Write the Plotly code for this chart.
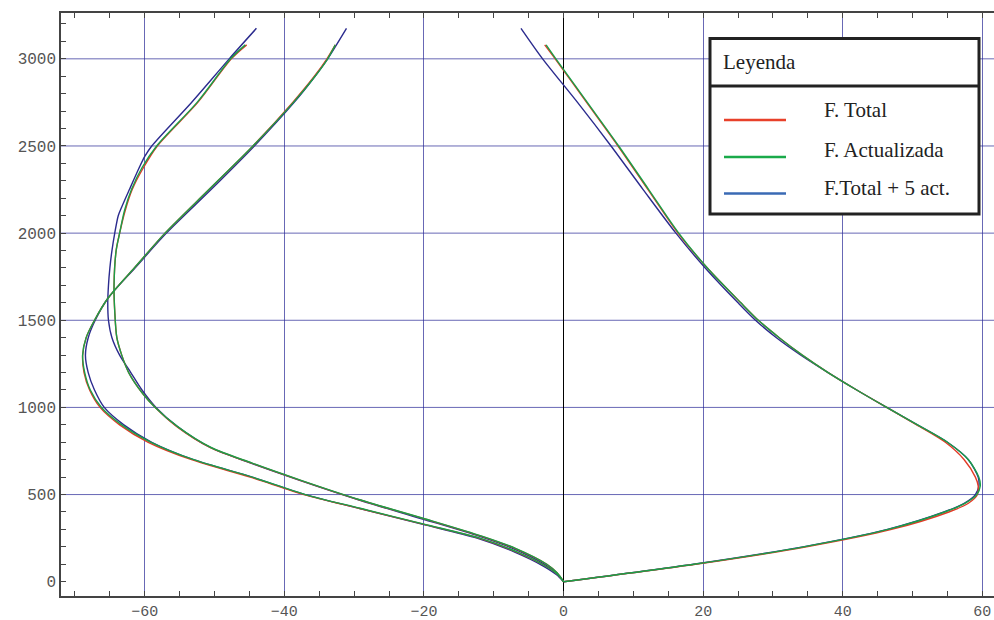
import plotly.graph_objects as go

# ---------------- data ----------------
# Right branch (red / green share heights; blue has its own)
alt_right = [0, 100, 200, 300, 400, 450, 500, 550, 600, 700, 800, 900, 1000, 1100, 1200,
             1300, 1400, 1500, 1600, 1800, 2000, 2250, 2500, 2750, 3000, 3080]
red_right = [0, 18.9, 34.8, 47.0, 55.2, 58.0, 59.3, 59.4, 59.0, 57.4, 54.7, 50.6, 46.3, 42.0, 37.9,
             34.2, 30.9, 27.9, 25.4, 20.6, 16.4, 12.1, 7.8, 3.3, -1.2, -2.7]
green_right = [0, 18.7, 34.4, 46.5, 54.6, 57.5, 59.2, 59.7, 59.5, 58.0, 55.0, 50.7, 46.3, 42.0, 37.9,
               34.2, 30.9, 27.9, 25.4, 20.6, 16.5, 12.2, 7.9, 3.4, -1.1, -2.5]
alt_right_blue = [0, 100, 200, 300, 400, 450, 500, 550, 600, 700, 800, 900, 1000, 1100, 1200,
                  1300, 1400, 1500, 1600, 1800, 2000, 2250, 2500, 2750, 3000, 3175]
blue_right = [0, 18.6, 34.3, 46.4, 54.5, 57.4, 59.0, 59.5, 59.4, 58.0, 55.0, 50.7, 46.3, 42.0, 37.9,
              34.0, 30.5, 27.5, 25.0, 20.3, 16.1, 11.4, 6.8, 2.0, -3.0, -6.1]

# Outer left branch
alt_outer = [0, 40, 90, 170, 250, 330, 420, 500, 600, 700, 800, 900, 1000, 1100, 1200,
             1300, 1400, 1500, 1625, 1800, 2000, 2250, 2500, 2750, 2900, 3000, 3080]
red_outer = [0, -0.8, -2.6, -6.7, -12.1, -20.1, -29.2, -37.2, -44.9, -53.3, -59.5, -63.6, -66.4, -67.9, -68.7,
             -68.9, -68.4, -67.2, -65.3, -61.5, -57.1, -50.8, -44.5, -38.8, -35.7, -33.9, -32.7]
green_outer = [0, -0.8, -2.6, -6.6, -12.0, -20.0, -29.0, -37.0, -44.6, -53.0, -59.1, -63.3, -66.2, -67.8, -68.6,
               -68.9, -68.4, -67.2, -65.3, -61.5, -57.1, -50.8, -44.5, -38.7, -35.6, -33.8, -32.7]
alt_outer_blue = [0, 40, 90, 170, 250, 330, 420, 500, 600, 700, 800, 900, 1000, 1100, 1200,
                  1300, 1400, 1500, 1625, 1800, 2000, 2250, 2500, 2750, 2900, 3000, 3175]
blue_outer = [0, -1.0, -2.9, -7.0, -12.4, -20.3, -29.2, -37.0, -44.6, -53.0, -59.0, -63.0, -65.8, -67.2, -68.1,
              -68.5, -68.1, -67.1, -65.3, -61.4, -56.9, -50.5, -44.3, -38.6, -35.6, -33.8, -31.1]

# Inner left branch
alt_inner = [0, 50, 100, 190, 260, 360, 470, 580, 680, 770, 890, 1000, 1080, 1200, 1300,
             1400, 1550, 1700, 1900, 2000, 2130, 2250, 2375, 2500, 2750, 3000, 3080]
red_inner = [0, -0.9, -2.4, -6.9, -11.7, -19.9, -29.3, -37.6, -44.7, -50.6, -55.4, -58.5, -60.3, -62.3, -63.3,
             -64.0, -64.3, -64.4, -64.1, -63.6, -62.8, -61.8, -60.2, -58.2, -52.4, -47.6, -45.4]
green_inner = [0, -0.9, -2.4, -6.8, -11.6, -19.8, -29.2, -37.5, -44.6, -50.5, -55.3, -58.5, -60.3, -62.3, -63.3,
               -64.0, -64.3, -64.4, -64.1, -63.6, -62.9, -61.9, -60.4, -58.3, -52.5, -47.7, -45.6]
alt_inner_blue = [0, 50, 100, 190, 260, 360, 470, 580, 680, 770, 890, 1000, 1100, 1200, 1300,
                  1400, 1500, 1600, 1700, 1800, 1900, 2000, 2100, 2150, 2250, 2375, 2440, 2500, 2750, 3000, 3175]
blue_inner = [0, -1.0, -2.7, -7.2, -12.0, -20.2, -29.4, -37.7, -44.8, -50.6, -55.3, -58.4, -60.4, -62.0, -63.6,
              -64.7, -65.2, -65.3, -65.2, -65.0, -64.7, -64.3, -63.8, -63.3, -62.2, -60.8, -60.0, -59.0, -53.3, -47.9, -44.0]

legend_title = "Leyenda"
series_names = ["F. Total", "F. Actualizada", "F.Total + 5 act."]
legend_colors = ["#e8402a", "#1aaa4a", "#3a6ab4"]
y_grid = [500, 1000, 1500, 2000, 2500, 3000]

# ---------------- styling ----------------
RED = "#e23a26"
GREEN = "#1a9f48"
BLUE = "#2b2b8e"
GRID = "rgba(40,40,150,0.7)"
AX = "#444444"

fig = go.Figure()

def add_curve(xs, ys, color, name):
    fig.add_trace(go.Scatter(x=xs, y=ys, mode="lines", name=name, showlegend=False,
                             line=dict(color=color, width=1.4, shape="spline", smoothing=0.8),
                             hoverinfo="skip"))

# draw blue first, then red, then green on top
for xs, ys in [(blue_right, alt_right_blue), (blue_outer, alt_outer_blue), (blue_inner, alt_inner_blue)]:
    add_curve(xs, ys, BLUE, series_names[2])
for xs, ys in [(red_right, alt_right), (red_outer, alt_outer), (red_inner, alt_inner)]:
    add_curve(xs, ys, RED, series_names[0])
for xs, ys in [(green_right, alt_right), (green_outer, alt_outer), (green_inner, alt_inner)]:
    add_curve(xs, ys, GREEN, series_names[1])

# horizontal grid lines (no line at 0)
shapes = []
for gy in y_grid:
    shapes.append(dict(type="line", xref="paper", yref="y", x0=0, x1=1, y0=gy, y1=gy,
                       line=dict(color=GRID, width=1), layer="below"))

# ---------------- legend box (drawn in paper coordinates) ----------------
W = 1002  # figure slightly wider than the window so the right frame edge falls outside
L, R, T, B = 61, W, 13, 596
def px(x):
    return (x - L) / (R - L)
def py(y):
    return (B - y) / (B - T)

shapes.append(dict(type="rect", xref="paper", yref="paper", x0=px(710), x1=px(979), y0=py(214), y1=py(38.5),
                   fillcolor="white", line=dict(color="#222222", width=3), layer="above"))
shapes.append(dict(type="line", xref="paper", yref="paper", x0=px(710), x1=px(979), y0=py(86), y1=py(86),
                   line=dict(color="#222222", width=3), layer="above"))
annotations = [dict(xref="paper", yref="paper", x=px(721), y=py(62), xanchor="left", yanchor="middle",
                    text=legend_title, showarrow=False,
                    font=dict(family="Liberation Serif", size=21, color="#222222"))]
line_y = [120, 157, 193.5]
text_y = [110, 150.5, 187.5]
for name, col, ly, ty in zip(series_names, legend_colors, line_y, text_y):
    shapes.append(dict(type="line", xref="paper", yref="paper", x0=px(724), x1=px(786), y0=py(ly), y1=py(ly),
                       line=dict(color=col, width=2.5), layer="above"))
    annotations.append(dict(xref="paper", yref="paper", x=px(822), y=py(ty), xanchor="left", yanchor="middle",
                            text=name, showarrow=False,
                            font=dict(family="Liberation Serif", size=21, color="#222222")))

xtickfont = dict(family="Liberation Mono", size=15, color="#555555")
ytickfont = dict(family="Liberation Mono", size=16, color="#555555")

x_per_px = 1 / 6.98
fig.update_layout(
    width=W, height=620,
    margin=dict(l=L, r=0, t=T, b=620 - B, autoexpand=False),
    paper_bgcolor="white", plot_bgcolor="white",
    shapes=shapes, annotations=annotations,
    showlegend=False,
    xaxis=dict(range=[-72, -72 + (R - L) * x_per_px], tick0=0, dtick=20, showgrid=True, gridcolor=GRID, gridwidth=1,
               zeroline=True, zerolinecolor="black", zerolinewidth=1, automargin=False,
               showline=True, linecolor=AX, linewidth=1.5, mirror="allticks",
               ticks="inside", ticklen=5, tickcolor=AX, tickwidth=1,
               minor=dict(dtick=5, tick0=0, ticks="inside", ticklen=5, tickcolor=AX, showgrid=False),
               tickfont=xtickfont),
    yaxis=dict(range=[-82, 3263], tick0=0, dtick=500, showgrid=False, zeroline=False, automargin=False,
               showline=True, linecolor=AX, linewidth=1.5, mirror="allticks",
               ticks="inside", ticklen=5, tickcolor=AX, tickwidth=1,
               minor=dict(dtick=100, tick0=0, ticks="inside", ticklen=5, tickcolor=AX, showgrid=False),
               tickfont=ytickfont),
)

fig.write_html("out.html", config={"displayModeBar": False},
               post_script="document.body.style.margin='0';document.body.style.overflow='hidden';")
